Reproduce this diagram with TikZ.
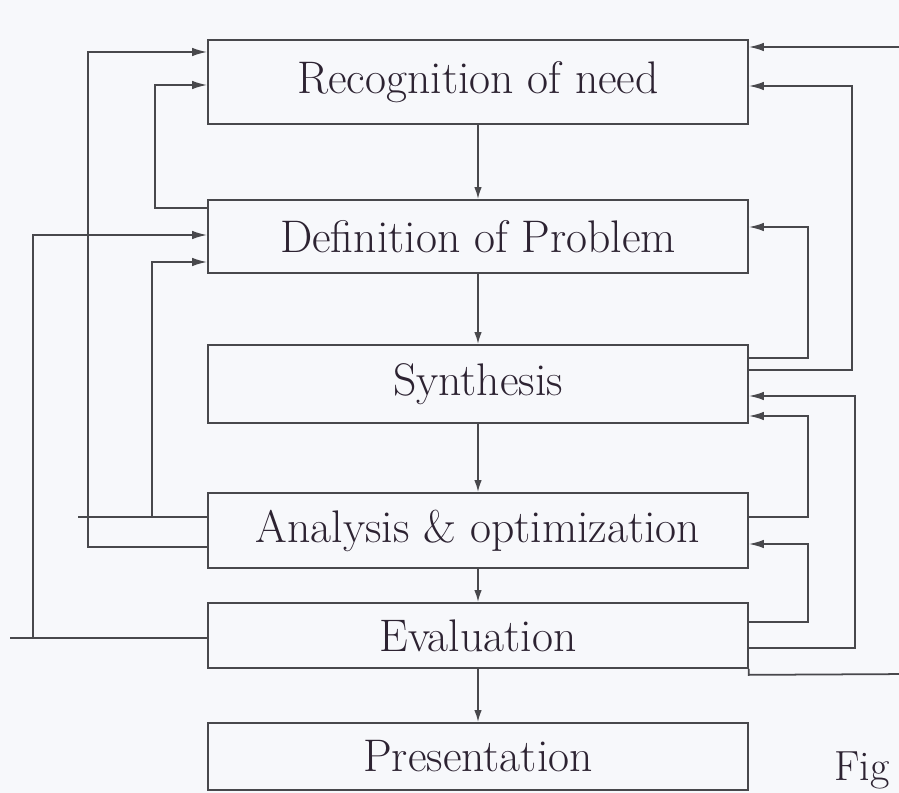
\documentclass[tikz,border=0pt]{standalone}
\definecolor{dsgink}{RGB}{72, 72, 76}
\definecolor{dsgtext}{RGB}{45, 35, 50}
\definecolor{dsgpaper}{RGB}{247, 248, 251}
\usepackage{tikz}
\usetikzlibrary{arrows.meta}
\tikzset{
  stagebox/.style={draw=dsgink, line width=1pt, minimum width=10.8cm, inner sep=1pt,
    font=\fontsize{26}{30}\selectfont, text=dsgtext},
  feedline/.style={draw=dsgink, line width=1pt},
  feedback/.style={feedline, -{Latex[length=3mm,width=1.7mm]}},
  flowarrow/.style={feedline, -{Latex[length=2.4mm,width=1.5mm]}}
}

\begin{document}
\begin{tikzpicture}[x=0.02cm, y=-0.02cm]
      \useasboundingbox (0,0) rectangle (899,793);
      \fill[dsgpaper] (0,0) rectangle (899,793);
      \node[stagebox, minimum height=1.68cm] (rec) at (478,82) {Recognition of need};
      \node[stagebox, minimum height=1.46cm] (def) at (478,236.5) {Definition of Problem};
      \node[stagebox, minimum height=1.56cm] (syn) at (478,384) {Synthesis};
      \node[stagebox, minimum height=1.5cm] (ana) at (478,530.5) {Analysis \& optimization};
      \node[stagebox, minimum height=1.3cm] (eva) at (478,635.5) {Evaluation};
      \node[stagebox, minimum height=1.34cm] (pre) at (478,756.5) {Presentation};
      \node[anchor=east, font=\fontsize{24}{28}\selectfont, text=dsgtext] (fig) at (896,770) {Fig};
      \draw[flowarrow] (rec) -- (def);
      \draw[flowarrow] (def) -- (syn);
      \draw[flowarrow] (syn) -- (ana);
      \draw[flowarrow] (ana) -- (eva);
      \draw[flowarrow] (eva) -- (pre);
      \draw[feedback] (ana.west |- 0,547) -| (88,52) -- (rec.west |- 0,52);
      \draw[feedback] (def.west |- 0,208) -| (155,85) -- (rec.west |- 0,85);
      \draw[feedback] (eva.west |- 0,638) -| (33,235) -- (def.west |- 0,235);
      \draw[feedline] (33,638) -- (10,638);
      \draw[feedback] (ana.west |- 0,517) -| (152,262) -- (def.west |- 0,262);
      \draw[feedline] (152,517) -- (78,517);
      \draw[feedback] (eva.south east) -- ++(0,6) -- (912,674) |- (rec.east |- 0,47);
      \draw[feedback] (syn.east |- 0,370) -| (852,86) -- (rec.east |- 0,86);
      \draw[feedback] (syn.east |- 0,358) -| (808,227) -- (def.east |- 0,227);
      \draw[feedback] (eva.east |- 0,648) -| (855,396) -- (syn.east |- 0,396);
      \draw[feedback] (ana.east |- 0,517) -| (808,416) -- (syn.east |- 0,416);
      \draw[feedback] (eva.east |- 0,622) -| (808,544) -- (ana.east |- 0,544);
    \end{tikzpicture}
\end{document}
